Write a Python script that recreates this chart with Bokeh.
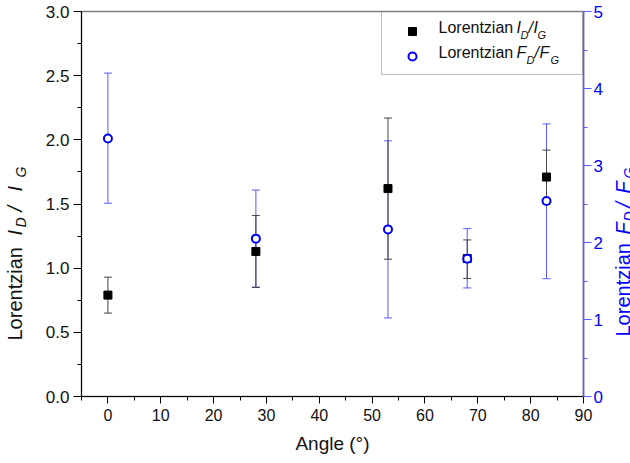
from math import pi
from bokeh.plotting import figure
from bokeh.layouts import row
from bokeh.core.properties import value
from bokeh.models import (Range1d, LinearAxis, SingleIntervalTicker, Whisker, TeeHead,
                          ColumnDataSource, Legend, LegendItem, PrintfTickFormatter)
from bokeh.embed import file_html
from bokeh.resources import INLINE

# ---- data ----
angles = [0, 28, 53, 68, 83]
id_ig = [0.79, 1.13, 1.62, 1.075, 1.71]
id_ig_upper = [0.93, 1.41, 2.17, 1.22, 1.92]
id_ig_lower = [0.65, 0.85, 1.07, 0.92, 1.50]
fd_fg = [3.35, 2.05, 2.17, 1.79, 2.54]
fd_fg_upper = [4.20, 2.68, 3.32, 2.18, 3.54]
fd_fg_lower = [2.51, 1.42, 1.02, 1.41, 1.53]

FONT = "Liberation Sans"
BLUE = "#0000ff"
BLUE_AX = "#5a5aff"
H = 463

# frame geometry (page pixels)
FL, FR, FT, FB = 81, 583, 11, 396
LW, RW = 40, 25          # widths of the side strips holding the axis titles
XMIN, XMAX, YMIN, YMAX = -5, 90, 0, 3

p = figure(width=630 - LW - RW, height=H, x_range=Range1d(XMIN, XMAX), y_range=Range1d(YMIN, YMAX),
           output_backend="svg", toolbar_location=None,
           min_border_left=FL - LW, min_border_right=630 - RW - FR, min_border_top=FT,
           min_border_bottom=H - FB)
p.extra_y_ranges = {"right": Range1d(0, 5)}
p.xgrid.visible = False
p.ygrid.visible = False
p.outline_line_color = "#808080"
p.outline_line_width = 1.5
p.background_fill_color = "white"
p.border_fill_color = "white"

# x axis
xa = p.xaxis[0]
xa.ticker = SingleIntervalTicker(interval=10, num_minor_ticks=2)
xa.axis_label = "Angle (°)"
xa.axis_label_text_font = FONT
xa.axis_label_text_font_size = "19px"
xa.axis_label_text_font_style = "normal"
xa.axis_label_text_color = "#111111"
xa.axis_label_standoff = 9
# y axis left
ya = p.yaxis[0]
ya.ticker = SingleIntervalTicker(interval=0.5, num_minor_ticks=2)
ya.formatter = PrintfTickFormatter(format="%.1f")
for ax in (xa, ya):
    ax.major_label_text_font = FONT
    ax.major_label_text_font_size = "16px"
    ax.major_label_text_color = "#111111"
    ax.axis_line_color = "black"
    ax.major_tick_line_color = "black"
    ax.minor_tick_line_color = "black"
    ax.major_tick_in = 0
    ax.major_tick_out = 7
    ax.minor_tick_in = 0
    ax.minor_tick_out = 4
ya.major_label_text_font_size = "17px"
xa.major_label_standoff = 5
ya.major_label_standoff = 4
ya.major_tick_out = 8

# y axis right
ra = LinearAxis(y_range_name="right", ticker=SingleIntervalTicker(interval=1, num_minor_ticks=2))
ra.major_label_text_font = FONT
ra.major_label_text_font_size = "17px"
ra.major_label_text_color = BLUE
ra.axis_line_color = BLUE_AX
ra.axis_line_width = 1.5
ra.major_tick_line_color = BLUE_AX
ra.minor_tick_line_color = BLUE_AX
ra.major_tick_in = 0
ra.major_tick_out = 8
ra.minor_tick_in = 0
ra.minor_tick_out = 4
ra.major_label_standoff = 2
p.add_layout(ra, "right")

# ---- error bars ----
src_i = ColumnDataSource(dict(x=angles, y=id_ig, u=id_ig_upper, l=id_ig_lower))
src_f = ColumnDataSource(dict(x=angles, y=fd_fg, u=fd_fg_upper, l=fd_fg_lower))

wf = Whisker(base="x", upper="u", lower="l", source=src_f, y_range_name="right",
             line_color=BLUE_AX, line_width=1,
             upper_head=TeeHead(size=8, line_color=BLUE_AX, line_width=1),
             lower_head=TeeHead(size=8, line_color=BLUE_AX, line_width=1))
wi = Whisker(base="x", upper="u", lower="l", source=src_i,
             line_color="#444444", line_width=1,
             upper_head=TeeHead(size=8, line_color="#444444", line_width=1),
             lower_head=TeeHead(size=8, line_color="#444444", line_width=1))
p.add_layout(wf)
p.add_layout(wi)

sq = p.scatter("x", "y", source=src_i, marker="square", size=8, color="black")
ci = p.scatter("x", "y", source=src_f, marker="circle", size=8, fill_color="white",
               line_color=BLUE, line_width=2, y_range_name="right")

# ---- legend box with markers (text drawn separately below) ----
legend = Legend(items=[LegendItem(label=" ", renderers=[sq]),
                       LegendItem(label=" ", renderers=[ci])],
                location="top_right", margin=0, padding=6, spacing=0,
                glyph_width=48, glyph_height=20, label_height=25, label_width=140,
                label_standoff=0, label_text_font_size="2px",
                border_line_color="#808080", border_line_width=1.5,
                background_fill_alpha=0)
p.add_layout(legend)


def px2x(px):
    return XMIN + (px - FL) * (XMAX - XMIN) / (FR - FL)


def py2y(py):
    return YMIN + (FB - py) * (YMAX - YMIN) / (FB - FT)


def style(size, italic, color):
    return dict(text_font=value(FONT), text_font_size=value(f"{size}px"), text_color=color,
                text_font_style=value("italic" if italic else "normal"),
                text_align="left", text_baseline="middle")


def htext(px, pym, text, size, italic=False, color="#111111"):
    # pym: screen y of the text's middle
    p.text(x=[px2x(px)], y=[py2y(pym)], text=[text], **style(size, italic, color))


# legend texts
htext(438, 27, "Lorentzian", 16)
htext(516, 27, "I", 16, True)
htext(520, 34, "D", 11, True)
htext(528, 27, "/", 16, True)
htext(533, 27, "I", 16, True)
htext(537, 34, "G", 11, True)

htext(438, 52, "Lorentzian", 16)
htext(516, 52, "F", 16, True)
htext(526, 59, "D", 11, True)
htext(534, 52, "/", 16, True)
htext(539, 52, "F", 16, True)
htext(550, 59, "G", 11, True)


def strip(x0, w):
    # same vertical frame as the main plot, so that page y maps directly
    f = figure(width=w, height=H, x_range=Range1d(x0, x0 + w), y_range=Range1d(H - FB, H - FT),
               x_axis_type=None, y_axis_type=None, toolbar_location=None,
               output_backend="svg", min_border_left=0, min_border_right=0,
               min_border_top=FT, min_border_bottom=H - FB, outline_line_color=None)
    f.grid.visible = False
    f.border_fill_color = "white"
    f.background_fill_color = "white"
    return f


left = strip(0, LW)
right = strip(630 - RW, RW)


def vtext(f, mx, py, text, size, italic=False, color="#111111"):
    # rotated 90deg ccw; mx: screen x of the text's middle, py: screen y where it starts
    f.text(x=[mx], y=[H - py], text=[text], angle=pi / 2, **style(size, italic, color))


# left axis title (rotated)
vtext(left, 14, 340, "Lorentzian", 20)
vtext(left, 14, 235, "I", 20, True)
vtext(left, 20, 227, "D", 14, True)
vtext(left, 14, 211, "/", 20, True)
vtext(left, 14, 191, "I", 20, True)
vtext(left, 20, 177, "G", 14, True)

# right axis title (rotated)
vtext(right, 622, 336, "Lorentzian", 20, color=BLUE)
vtext(right, 622, 234, "F", 20, True, color=BLUE)
vtext(right, 628, 221, "D", 14, True, color=BLUE)
vtext(right, 622, 207, "/", 20, True, color=BLUE)
vtext(right, 622, 193, "F", 20, True, color=BLUE)
vtext(right, 628, 178, "G", 14, True, color=BLUE)

layout = row(left, p, right, spacing=0)
open("out.html", "w").write(file_html(layout, INLINE))
